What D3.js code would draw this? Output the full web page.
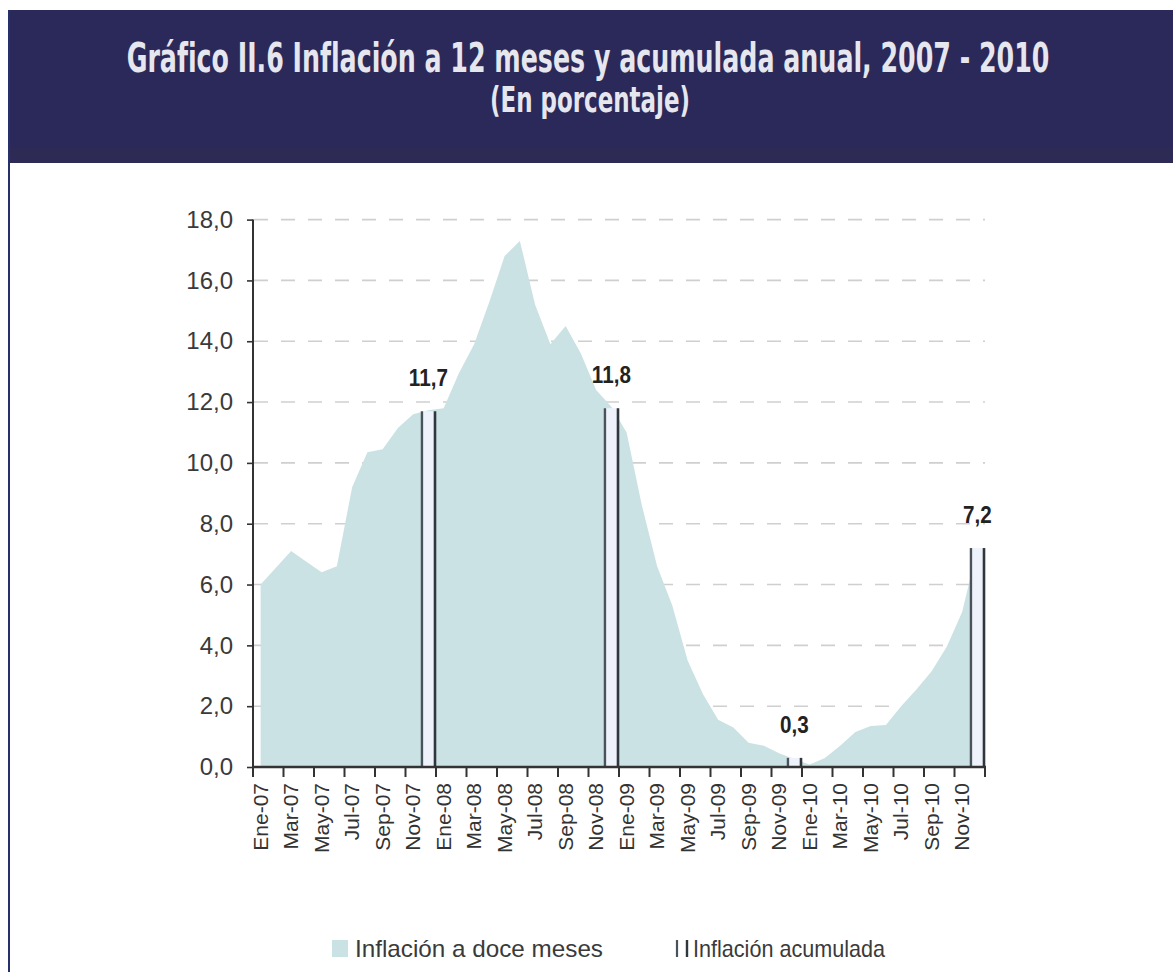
<!DOCTYPE html>
<html lang="es">
<head>
<meta charset="utf-8">
<title>Gráfico II.6 Inflación a 12 meses y acumulada anual, 2007 - 2010</title>
<script src="https://cdn.jsdelivr.net/npm/d3@7"></script>
<style>
  html, body { margin: 0; padding: 0; background: #ffffff; }
  svg { display: block; }
</style>
</head>
<body>
<svg id="chart" width="1173" height="972"></svg>
<script>
// Month categories, Jan-2007 .. Dec-2010
const monthNames = ["Ene","Feb","Mar","Abr","May","Jun","Jul","Ago","Sep","Oct","Nov","Dic"];
const years = ["07","08","09","10"];
const months = years.flatMap(y => monthNames.map(m => m + "-" + y));

// 12-month inflation (%), one value per month
const inflation12m = [
  6.0, 6.55, 7.1, 6.75, 6.4, 6.6, 9.2, 10.35, 10.45, 11.15, 11.6, 11.73,
  11.8, 12.95, 13.9, 15.3, 16.8, 17.3, 15.2, 13.9, 14.5, 13.6, 12.4, 11.85,
  11.0, 8.6, 6.6, 5.3, 3.5, 2.4, 1.55, 1.3, 0.8, 0.7, 0.45, 0.26,
  0.08, 0.3, 0.7, 1.15, 1.35, 1.38, 2.0, 2.55, 3.15, 3.96, 5.1, 7.18
];

// Accumulated annual inflation (%), shown at each December
const accumMonths = ["Dic-07", "Dic-08", "Dic-09", "Dic-10"];
const accumValues = [11.7, 11.8, 0.3, 7.2];

// Y axis ticks
const yTicks = [0, 2, 4, 6, 8, 10, 12, 14, 16, 18];

const titleText = "Gráfico II.6 Inflación a 12 meses y acumulada anual, 2007 - 2010";
const subtitleText = "(En porcentaje)";
const legendArea = "Inflación a doce meses";
const legendBars = "Inflación acumulada";

const fmt = v => v.toFixed(1).replace(".", ",");

const svg = d3.select("#chart");
const W = 1173, H = 972;

// Header band and frame
svg.append("rect").attr("x", 0).attr("y", 0).attr("width", W).attr("height", H).attr("fill", "#ffffff");
svg.append("rect").attr("x", 8).attr("y", 10).attr("width", W - 8).attr("height", 153).attr("fill", "#2b2959");
svg.append("rect").attr("x", 8).attr("y", 148).attr("width", W - 8).attr("height", 15).attr("fill", "#2d2b55");
svg.append("line").attr("x1", 9).attr("x2", 9).attr("y1", 10).attr("y2", H)
  .attr("stroke", "#26306a").attr("stroke-width", 2);

// Header texts: condensed bold, squeezed horizontally to a fixed width
const headFont = "'Liberation Sans Narrow', 'Arial Narrow', 'DejaVu Sans Condensed', sans-serif";
function headText(str, cx, baseline, size, width) {
  const t = svg.append("text")
    .attr("text-anchor", "middle")
    .style("font-family", headFont)
    .style("font-weight", "bold").style("font-size", size + "px")
    .attr("fill", "#e6e6ee")
    .text(str);
  const natural = t.node().getComputedTextLength();
  const sx = Math.min(1, width / natural);
  t.attr("transform", `translate(${cx},${baseline}) scale(${sx},1)`);
  return t;
}
headText(titleText, 588, 72, 40, 923);
headText(subtitleText, 590, 112, 35, 200);

// Scales
const x = d3.scaleBand().domain(months).range([253, 985]).paddingInner(0).paddingOuter(0);
const bw = x.bandwidth();
const y = d3.scaleLinear().domain([0, 18]).range([767, 219.6]);

const plot = svg.append("g");

// Dashed horizontal gridlines
plot.append("g").selectAll("line")
  .data(yTicks.filter(d => d > 0))
  .join("line")
  .attr("x1", 254).attr("x2", 985)
  .attr("y1", d => y(d)).attr("y2", d => y(d))
  .attr("stroke", "#cfcfcf").attr("stroke-width", 1.6)
  .attr("stroke-dasharray", "14,13");

// 12-month inflation area
const area = d3.area()
  .x((d, i) => x(months[i]) + bw / 2)
  .y0(y(0))
  .y1(d => y(d));

plot.append("path")
  .datum(inflation12m)
  .attr("d", area)
  .attr("fill", "#cae2e4");

// Accumulated inflation columns
const accum = accumMonths.map((m, i) => ({ m, v: accumValues[i] }));
const bars = plot.append("g").selectAll("g").data(accum).join("g");
bars.append("rect")
  .attr("x", d => x(d.m) + 1).attr("width", bw - 2)
  .attr("y", d => y(d.v)).attr("height", d => y(0) - y(d.v))
  .attr("fill", "#eef3fb");
bars.append("line")
  .attr("x1", d => x(d.m) + 1.2).attr("x2", d => x(d.m) + 1.2)
  .attr("y1", d => y(d.v)).attr("y2", y(0))
  .attr("stroke", "#4a535c").attr("stroke-width", 2.4);
bars.append("line")
  .attr("x1", d => x(d.m) + bw - 1).attr("x2", d => x(d.m) + bw - 1)
  .attr("y1", d => y(d.v)).attr("y2", y(0))
  .attr("stroke", "#2f363c").attr("stroke-width", 2.6);
bars.append("text")
  .attr("transform", d => `translate(${x(d.m) + bw / 2},${y(d.v) - 25}) scale(0.86,1)`)
  .attr("text-anchor", "middle")
  .style("font-family", "'Liberation Sans', Arial, sans-serif")
  .style("font-weight", "bold").style("font-size", "24px")
  .attr("fill", "#222222")
  .text(d => fmt(d.v));

// Y axis
const yAxis = d3.axisLeft(y).tickValues(yTicks).tickFormat(fmt).tickSize(6).tickPadding(14);
const gy = svg.append("g").attr("transform", "translate(253,0)").call(yAxis);
gy.select(".domain").attr("stroke", "#333333").attr("stroke-width", 2)
  .attr("d", `M0,${y(18)}V${y(0)}`);
gy.selectAll(".tick line").attr("stroke", "#333333").attr("stroke-width", 1.6);
gy.selectAll(".tick text")
  .style("font-family", "'Liberation Sans', Arial, sans-serif")
  .style("font-size", "24px")
  .attr("fill", "#3a3a3a");

// X axis: baseline, tick marks on every second month boundary, labels centered in bands
const labelMonths = months.filter((m, i) => i % 2 === 0);
const gx = svg.append("g");
gx.append("line")
  .attr("x1", 253).attr("x2", 986)
  .attr("y1", y(0)).attr("y2", y(0))
  .attr("stroke", "#333333").attr("stroke-width", 2.6);
const tickPos = labelMonths.map(m => x(m)).concat([x.range()[1]]);
gx.selectAll("line.tk")
  .data(tickPos)
  .join("line").attr("class", "tk")
  .attr("x1", d => d).attr("x2", d => d)
  .attr("y1", y(0)).attr("y2", y(0) + 10)
  .attr("stroke", "#333333").attr("stroke-width", 2);
gx.selectAll("text")
  .data(labelMonths)
  .join("text")
  .attr("transform", m => `translate(${x(m) + bw / 2},783) rotate(-90)`)
  .attr("dy", "0.35em")
  .attr("text-anchor", "end")
  .style("font-family", "'Liberation Sans', Arial, sans-serif")
  .style("font-size", "21px")
  .attr("fill", "#333333")
  .text(m => m);

// Legend
const lg = svg.append("g");
lg.append("rect").attr("x", 332).attr("y", 940).attr("width", 16).attr("height", 17).attr("fill", "#cae2e4");
lg.append("text").attr("x", 355).attr("y", 957)
  .attr("textLength", 248).attr("lengthAdjust", "spacingAndGlyphs")
  .style("font-family", "'Liberation Sans', Arial, sans-serif").style("font-size", "24px")
  .attr("fill", "#3a3a3a").text(legendArea);
lg.append("line").attr("x1", 677).attr("x2", 677).attr("y1", 940).attr("y2", 957)
  .attr("stroke", "#4a535c").attr("stroke-width", 2.2);
lg.append("line").attr("x1", 687).attr("x2", 687).attr("y1", 940).attr("y2", 957)
  .attr("stroke", "#2f363c").attr("stroke-width", 2.4);
lg.append("text").attr("x", 693).attr("y", 957)
  .attr("textLength", 192).attr("lengthAdjust", "spacingAndGlyphs")
  .style("font-family", "'Liberation Sans', Arial, sans-serif").style("font-size", "24px")
  .attr("fill", "#3a3a3a").text(legendBars);
</script>
</body>
</html>
